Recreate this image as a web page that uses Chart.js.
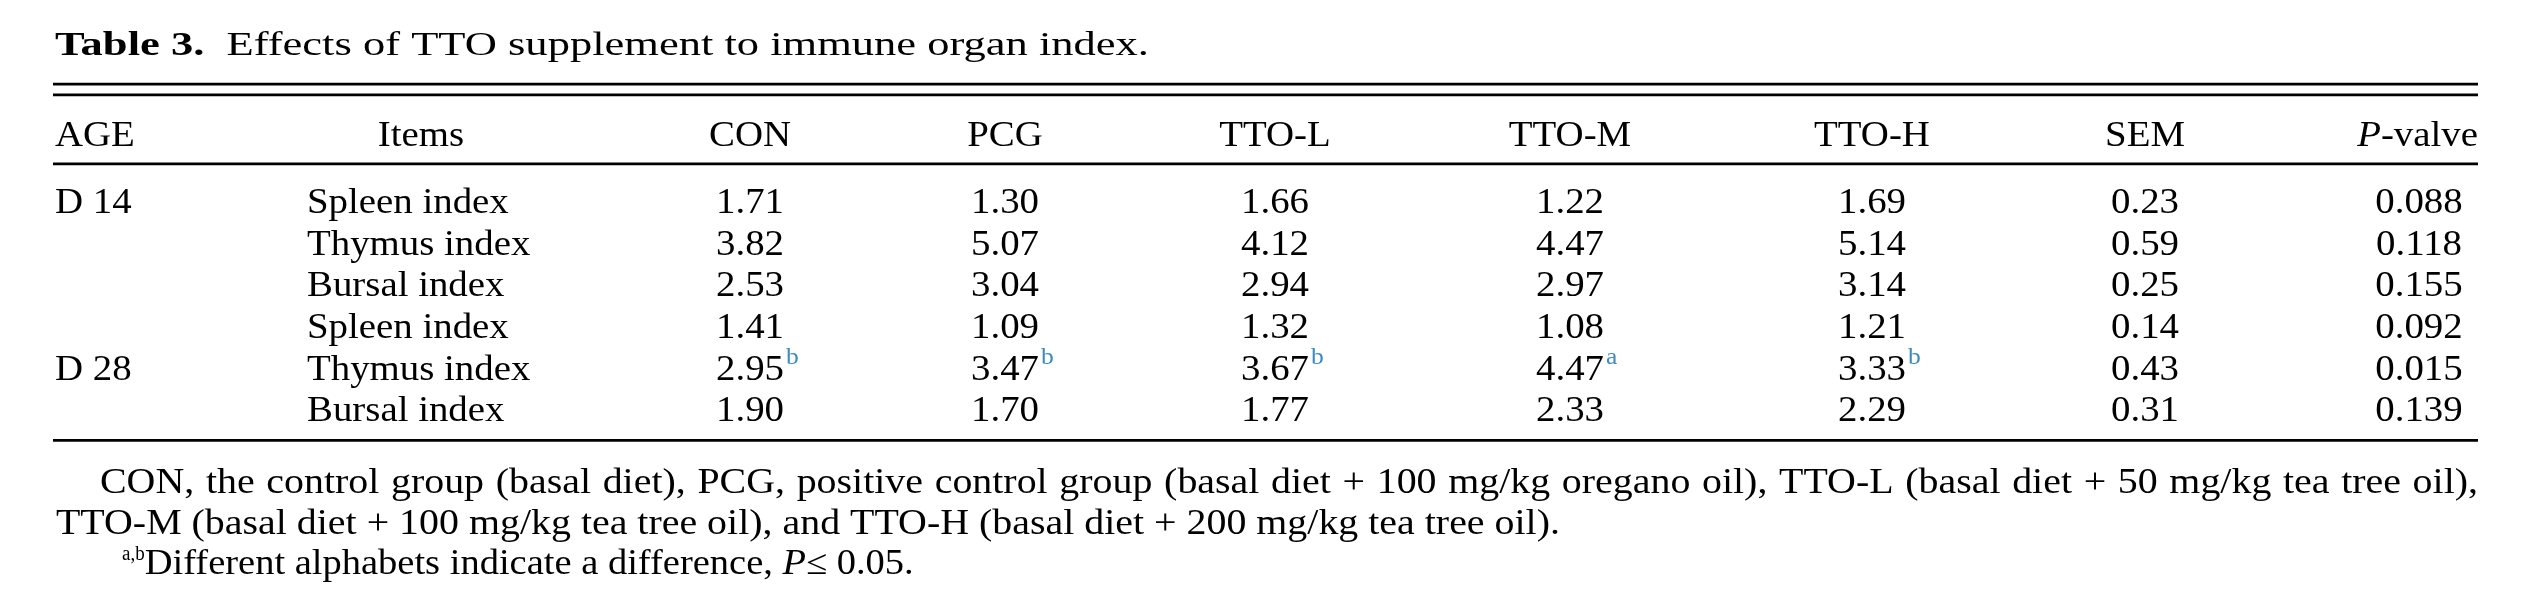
<!DOCTYPE html>
<html>
<head>
<meta charset="utf-8">
<script src="https://cdn.jsdelivr.net/npm/chart.js@4.4.1/dist/chart.umd.min.js"></script>
<style>
  html, body { margin: 0; padding: 0; background: #fff; }
  #wrap { width: 2545px; height: 598px; }
</style>
</head>
<body>
<div id="wrap"><canvas id="tableChart" width="2545" height="598"></canvas></div>
<script>
// table content
const titleBold = 'Table 3.';
const titleText = 'Effects of TTO supplement to immune organ index.';
const groups = ['CON', 'PCG', 'TTO-L', 'TTO-M', 'TTO-H'];
const ages = ['D 14', 'D 28'];
const ageRows = [0, 4];
const items = ['Spleen index', 'Thymus index', 'Bursal index', 'Spleen index', 'Thymus index', 'Bursal index'];
const conValues = [1.71, 3.82, 2.53, 1.41, 2.95, 1.90];
const pcgValues = [1.30, 5.07, 3.04, 1.09, 3.47, 1.70];
const ttoLValues = [1.66, 4.12, 2.94, 1.32, 3.67, 1.77];
const ttoMValues = [1.22, 4.47, 2.97, 1.08, 4.47, 2.33];
const ttoHValues = [1.69, 5.14, 3.14, 1.21, 3.33, 2.29];
const semValues = [0.23, 0.59, 0.25, 0.14, 0.43, 0.31];
const pValues = [0.088, 0.118, 0.155, 0.092, 0.015, 0.139];
// superscript letters (D 28 thymus row), one per group
const letterRow = 4;
const thymusLetters = ['b', 'b', 'b', 'a', 'b'];
const footLine1 = 'CON, the control group (basal diet), PCG, positive control group (basal diet + 100 mg/kg oregano oil), TTO-L (basal diet + 50 mg/kg tea tree oil),';
const footLine2 = 'TTO-M (basal diet + 100 mg/kg tea tree oil), and TTO-H (basal diet + 200 mg/kg tea tree oil).';
const footLine3 = 'Different alphabets indicate a difference, ';

// layout (x in canvas units, y in row units: body row i sits at i)
const FONT = '"Liberation Serif", "Times New Roman", serif';
const BODY_PX = 35;
const SUP_PX = 23;
const STRETCH = 1.11;
const FOOT_STRETCH = 1.14;
const tableLeft = 53, tableRight = 2478;
const ageX = 55, itemsHeadX = 421, itemsX = 307;
const groupX = [750, 1005, 1275, 1570, 1872];
const semX = 2145, pX = 2419;
const titleY = -3.8, rule1Y = -3.10, rule2Y = -2.84, headY = -1.61, rule3Y = -1.18, rule4Y = 5.46;
const footY = [6.73, 7.72, 8.68];
const titleWidth = 1094;
const supColor = '#3d8bbf';

function drawRuns(ctx, runs, x, y, align, sx) {
  // runs: [{t, font, color, dy, sx}]
  let w = 0;
  runs.forEach(r => { ctx.font = r.font; w += ctx.measureText(r.t).width * (r.sx || sx); });
  let cx = x;
  if (align === 'center') cx = x - w / 2;
  else if (align === 'right') cx = x - w;
  runs.forEach(r => {
    const s = r.sx || sx;
    ctx.save();
    ctx.font = r.font;
    ctx.fillStyle = r.color || '#000';
    const adv = ctx.measureText(r.t).width * s;
    ctx.translate(cx, y + (r.dy || 0));
    ctx.scale(s, 1);
    ctx.textAlign = 'left';
    ctx.textBaseline = 'alphabetic';
    ctx.fillText(r.t, 0, 0);
    ctx.restore();
    cx += adv;
  });
  return cx;
}

function body(t, italic) {
  return { t, font: (italic ? 'italic ' : '') + BODY_PX + 'px ' + FONT };
}

const tablePlugin = {
  id: 'tablePlugin',
  afterDraw(chart) {
    const { ctx } = chart;
    const xs = chart.scales.x, ys = chart.scales.y;
    const px = v => xs.getPixelForValue(v);
    const py = v => ys.getPixelForValue(v);

    // title, stretched to the caption width
    ctx.save();
    const boldFont = 'bold 34px ' + FONT, regFont = '34px ' + FONT;
    ctx.font = boldFont; const wb = ctx.measureText(titleBold + '  ').width;
    ctx.font = regFont; const wr = ctx.measureText(titleText).width;
    ctx.restore();
    drawRuns(ctx, [{ t: titleBold + '  ', font: boldFont }, { t: titleText, font: regFont }],
      px(tableLeft + 2), py(titleY), 'left', titleWidth / (wb + wr));

    // rules
    ctx.save();
    ctx.strokeStyle = '#000';
    ctx.lineWidth = 2.7;
    [rule1Y, rule2Y, rule3Y, rule4Y].forEach(v => {
      ctx.beginPath();
      ctx.moveTo(px(tableLeft), py(v));
      ctx.lineTo(px(tableRight), py(v));
      ctx.stroke();
    });
    ctx.restore();

    // header
    drawRuns(ctx, [body('AGE')], px(ageX), py(headY), 'left', STRETCH);
    drawRuns(ctx, [body('Items')], px(itemsHeadX), py(headY), 'center', STRETCH);
    groups.forEach((g, j) => drawRuns(ctx, [body(g)], px(groupX[j]), py(headY), 'center', STRETCH));
    drawRuns(ctx, [body('SEM')], px(semX), py(headY), 'center', STRETCH);
    drawRuns(ctx, [body('P', true), body('-valve')], px(tableRight), py(headY), 'right', STRETCH);

    // body rows
    ages.forEach((a, k) => drawRuns(ctx, [body(a)], px(ageX), py(ageRows[k]), 'left', STRETCH));
    items.forEach((it, i) => drawRuns(ctx, [body(it)], px(itemsX), py(i), 'left', STRETCH));
    const groupValues = [conValues, pcgValues, ttoLValues, ttoMValues, ttoHValues];
    groupValues.forEach((vals, j) => {
      vals.forEach((v, i) => {
        const end = drawRuns(ctx, [body(v.toFixed(2))], px(groupX[j]), py(i), 'center', STRETCH);
        if (i === letterRow && thymusLetters[j]) {
          drawRuns(ctx, [{ t: thymusLetters[j], font: SUP_PX + 'px ' + FONT, color: supColor, dy: -16 }],
            end + 2, py(i), 'left', STRETCH);
        }
      });
    });
    semValues.forEach((v, i) => drawRuns(ctx, [body(v.toFixed(2))], px(semX), py(i), 'center', STRETCH));
    pValues.forEach((v, i) => drawRuns(ctx, [body(v.toFixed(3))], px(pX), py(i), 'center', STRETCH));

    // footnotes; first line is justified between indent and right edge
    ctx.save();
    ctx.font = BODY_PX + 'px ' + FONT;
    const words = footLine1.split(' ');
    const spaceW = ctx.measureText(' ').width * FOOT_STRETCH;
    const wordW = words.map(w => ctx.measureText(w).width * FOOT_STRETCH);
    const start = px(tableLeft + 47), stop = px(tableRight);
    const natural = wordW.reduce((a, b) => a + b, 0);
    const gap = Math.max(spaceW * 0.7, (stop - start - natural) / (words.length - 1));
    ctx.restore();
    let cx = start;
    words.forEach((w, i) => {
      drawRuns(ctx, [body(w)], cx, py(footY[0]), 'left', FOOT_STRETCH);
      cx += wordW[i] + gap;
    });
    drawRuns(ctx, [body(footLine2)], px(tableLeft + 3), py(footY[1]), 'left', FOOT_STRETCH);
    drawRuns(ctx, [
      { t: 'a,b', font: '20px ' + FONT, dy: -14, sx: 0.95 },
      body(footLine3),
      body('P', true),
      body('\u2264 0.05.')
    ], px(tableLeft + 69), py(footY[2]), 'left', 1.1);
  }
};

const canvas = document.getElementById('tableChart');
// eslint-disable-next-line no-new
new Chart(canvas.getContext('2d'), {
  type: 'scatter',
  data: { datasets: [] },
  options: {
    responsive: false,
    animation: false,
    events: [],
    layout: { padding: 0 },
    plugins: { legend: { display: false }, tooltip: { enabled: false } },
    scales: {
      x: { type: 'linear', display: false, min: 0, max: 2545 },
      y: { type: 'linear', display: false, reverse: true, min: -5.12, max: 9.25 }
    }
  },
  plugins: [tablePlugin]
});
</script>
</body>
</html>
